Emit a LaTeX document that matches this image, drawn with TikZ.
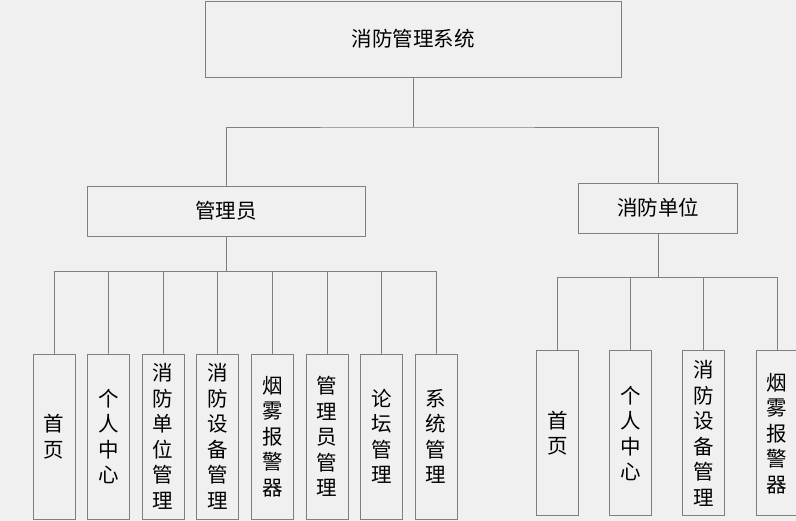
\documentclass[tikz,border=0pt]{standalone}
\usepackage{fontspec}
\newfontfamily\cjk{Noto Sans CJK SC}
\usetikzlibrary{chains, positioning}
\definecolor{bgcol}{HTML}{F0F0F0}
\definecolor{linecol}{HTML}{7F7F7F}

\begin{document}
\begin{tikzpicture}[x=1pt, y=-1pt,
	box/.style = {rectangle, draw=linecol, fill=bgcol, line width=0.9pt, inner sep=0pt,
		font=\cjk\fontsize{20.5}{25.5}\selectfont},
	wide/.style = {% top level boxes
		box, minimum width=#1, minimum height=50pt},
	tall/.style = {% leaf boxes, text set vertically
		box, minimum width=42pt, minimum height=165pt, text width=42pt, align=center, on chain},
	link/.style = {draw=linecol, line width=0.9pt}]

\useasboundingbox[fill=bgcol] (0,0) rectangle (796,521);

\node[box, minimum width=416pt, minimum height=76pt] (sys) at (413,39) {消防管理系统};
\node[wide=278pt] (admin) at (226,211) {管理员};
\node[wide=159pt] (unit)  at (658,208) {消防单位};

\begin{scope}[start chain = L going right, node distance = 11.7pt, every node/.style={tall}]
\node at (54,436.5) {首\\页};     % L-1
\node {个\\人\\中\\心};
\node {消\\防\\单\\位\\管\\理};
\node {消\\防\\设\\备\\管\\理};
\node {烟\\雾\\报\\警\\器};
\node {管\\理\\员\\管\\理};
\node {论\\坛\\管\\理};
\node {系\\统\\管\\理};
\end{scope}

\begin{scope}[start chain = R going right, node distance = 30.2pt, every node/.style={tall}]
\node at (557.7,433.4) {首\\页};  % R-1
\node {个\\人\\中\\心};
\node {消\\防\\设\\备\\管\\理};
\node {烟\\雾\\报\\警\\器};
\end{scope}

	% connectors
	\coordinate (bus1) at (413,127);
	\coordinate (bus2) at (226,271);
	\coordinate (bus3) at (658,277);

	\draw[link] (sys.south) -- (bus1);
	\draw[link] (admin.north) |- (bus1) -| (unit.north);
	\draw[link] (admin.south) -- (bus2);
	\draw[link] (unit.south) -- (bus3);
	\foreach \i in {1,...,8}
		\draw[link] (L-\i.north) |- (bus2);
	\foreach \i in {1,...,4}
		\draw[link] (R-\i.north) |- (bus3);

\end{tikzpicture}
\end{document}
